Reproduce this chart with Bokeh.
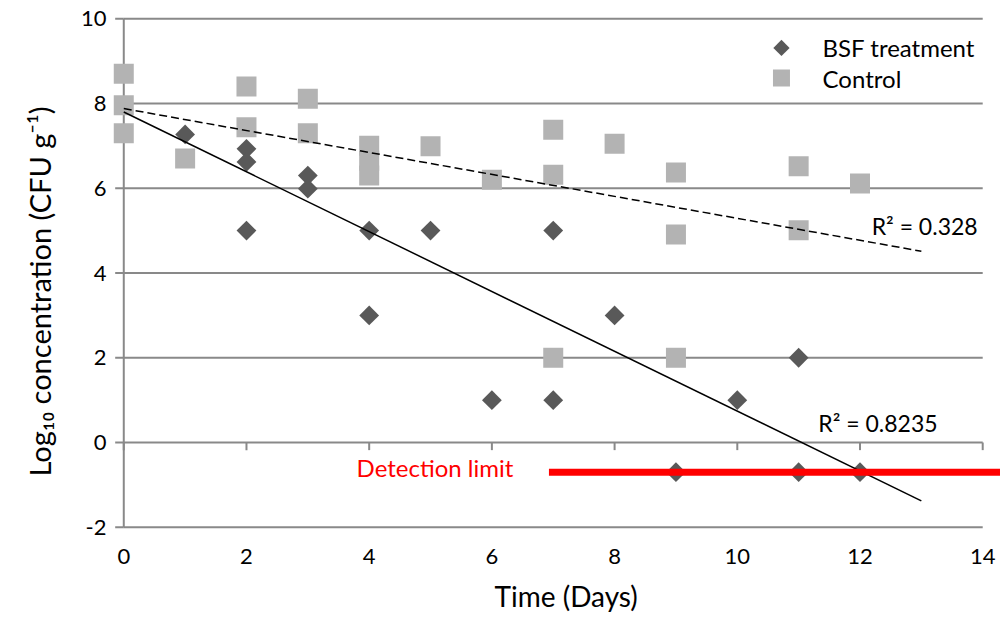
import numpy as np
from bokeh.plotting import figure
from bokeh.models import FixedTicker, Title, PrintfTickFormatter
from bokeh.core.properties import value
from bokeh.embed import file_html
from bokeh.resources import INLINE

# ---- data ----
bsf_days = [1, 2, 2, 2, 3, 3, 4, 4, 5, 6, 7, 7, 8, 9, 10, 11, 11, 12]
bsf_log = [7.27, 6.93, 6.62, 5.0, 6.3, 5.99, 5.0, 3.0, 5.0, 1.0, 5.0, 1.0, 3.0, -0.7, 1.0, 2.0, -0.7, -0.7]

control_days = [0, 0, 0, 1, 2, 2, 3, 3, 4, 4, 4, 5, 6, 7, 7, 7, 8, 9, 9, 9, 11, 11, 12]
control_log = [8.7, 7.96, 7.3, 6.7, 8.4, 7.44, 8.11, 7.3, 7.0, 6.65, 6.3, 6.99,
               6.2, 7.38, 6.32, 2.0, 7.05, 6.37, 4.91, 2.0, 6.52, 5.01, 6.11]

trend_days = [0, 13]
bsf_trend = {"intercept": 7.80, "slope": -0.706, "r2": "R² = 0.8235"}
control_trend = {"intercept": 7.88, "slope": -0.259, "r2": "R² = 0.328"}

detection_limit = -0.7
detection_days = [6.93, 14.4]

x_ticks = [0, 2, 4, 6, 8, 10, 12, 14]
y_ticks = [-2, 0, 2, 4, 6, 8, 10]
legend_labels = ["BSF treatment", "Control"]

# ---- style ----
FONT = "Lato"
GRID = "#898989"
BSF_COLOR = "#595959"
CTRL_COLOR = "#b3b3b3"

p = figure(width=1000, height=628, x_range=(-0.2, 14.29), y_range=(-2.1, 10.1),
           output_backend="svg", toolbar_location=None,
           min_border_left=110, min_border_right=0, min_border_top=14, min_border_bottom=97)
p.outline_line_color = None
p.xgrid.visible = False
p.ygrid.visible = False

for ax in (p.xaxis, p.yaxis):
    ax.axis_line_color = None
    ax.major_tick_line_color = None
    ax.minor_tick_line_color = None
    ax.major_tick_out = 0
    ax.major_tick_in = 0
    ax.major_label_text_font = FONT
    ax.major_label_text_font_size = "22px"
    ax.major_label_text_color = "#000000"
    ax.formatter = PrintfTickFormatter(format="%d")
p.xaxis.ticker = FixedTicker(ticks=x_ticks)
p.yaxis.ticker = FixedTicker(ticks=y_ticks)
p.xaxis.major_label_standoff = 17
p.yaxis.major_label_standoff = 5

# gridlines, axis lines and tick stubs
x_lo, x_hi = x_ticks[0], x_ticks[-1]
n_y = len(y_ticks)
p.segment(x0=[x_lo] * n_y, y0=y_ticks, x1=[x_hi] * n_y, y1=y_ticks,
          line_color=GRID, line_width=2)
p.segment(x0=[x_lo] * n_y, y0=y_ticks, x1=[x_lo - 0.14] * n_y, y1=y_ticks,
          line_color=GRID, line_width=2)
p.segment(x0=[x_lo], y0=[y_ticks[0]], x1=[x_lo], y1=[y_ticks[-1]], line_color=GRID, line_width=2)
p.segment(x0=x_ticks, y0=[0] * len(x_ticks), x1=x_ticks, y1=[-0.18] * len(x_ticks),
          line_color=GRID, line_width=2)

# data
p.scatter(bsf_days, bsf_log, marker="square", angle=np.pi / 4, size=14,
          fill_color=BSF_COLOR, line_color=None)
p.scatter(control_days, control_log, marker="square", size=20,
          fill_color=CTRL_COLOR, line_color=None)

# trend lines
tx = np.array(trend_days, dtype=float)
p.line(tx, bsf_trend["intercept"] + bsf_trend["slope"] * tx, line_color="black", line_width=1.5)
p.line(tx, control_trend["intercept"] + control_trend["slope"] * tx, line_color="black",
       line_width=1.5, line_dash="8 4")

# detection limit
p.line(detection_days, [detection_limit] * len(detection_days), line_color="#ff0000", line_width=7)

def txt(size):
    return dict(text_font=value(FONT), text_font_size=value(size), text_baseline="middle")

p.text(x=[12.19], y=[5.12], text=[control_trend["r2"]], text_color="black", **txt("23px"))
p.text(x=[11.32], y=[0.45], text=[bsf_trend["r2"]], text_color="black", **txt("23px"))
p.text(x=[6.35], y=[-0.6], text=["Detection limit"], text_color="#ff0000",
       text_align="right", **txt("24px"))

# legend
p.scatter(x=[10.72], y=[9.31], marker="square", angle=np.pi / 4, size=11.5,
          fill_color=BSF_COLOR, line_color=None)
p.scatter(x=[10.72], y=[8.6], marker="square", size=17, fill_color=CTRL_COLOR, line_color=None)
p.text(x=[11.39, 11.39], y=[9.31, 8.6], text=legend_labels, text_color="black", **txt("24px"))

# axis titles
p.add_layout(Title(text="Time (Days)", align="left", offset=383, standoff=20,
                   vertical_align="bottom", text_font=FONT, text_font_size="28px",
                   text_font_style="normal", text_color="black"), "below")
p.add_layout(Title(text="Log₁₀ concentration (CFU g⁻¹)", align="left", offset=55, standoff=40,
                   vertical_align="middle", text_font=FONT, text_font_size="29px",
                   text_font_style="normal", text_color="black"), "left")

open("out.html", "w").write(file_html(p, INLINE))
